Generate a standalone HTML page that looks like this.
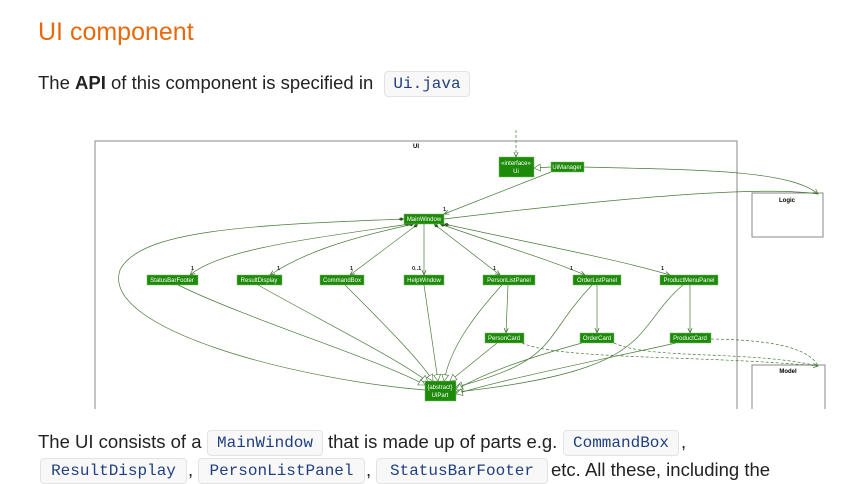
<!DOCTYPE html>
<html><head><meta charset="utf-8"><style>
body{margin:0;width:865px;height:483px;background:#fff;overflow:hidden;position:relative;font-family:"Liberation Sans",sans-serif;color:#222}
.a{position:absolute;white-space:nowrap}
.c{position:absolute;font-family:"Liberation Mono",monospace;font-size:16px;color:#1f3f80;background:#f8f8f8;border:1px solid #e3e3e3;border-radius:4px;height:24px;line-height:24px;text-align:center}
.t{font-size:18.5px}
</style></head><body>
<div class="a" style="left:38px;top:18px;font-size:25px;color:#e8690c">UI component</div>
<div class="a t" style="left:38px;top:72px">The <b>API</b> of this component is specified in</div>
<div class="c" style="left:384px;top:71px;width:84px">Ui.java</div>

<svg class="a" style="left:0;top:0" width="865" height="483" font-family="Liberation Sans,sans-serif">
<defs>
<marker id="ar" markerWidth="8" markerHeight="8" refX="7" refY="4" orient="auto"><path d="M0,1 L7,4 L0,7" fill="none" stroke="#3a6a2a" stroke-width="1"/></marker>
<marker id="di" markerWidth="10" markerHeight="8" refX="1" refY="4" orient="auto"><path d="M1,4 L5,1.5 L9,4 L5,6.5Z" fill="#2a5a1a"/></marker>
<marker id="tr" markerWidth="12" markerHeight="12" refX="10" refY="6" orient="auto"><path d="M1,1 L10,6 L1,11Z" fill="#fff" stroke="#3a6a2a" stroke-width="0.8"/></marker>
</defs>
<rect x="95" y="141" width="642" height="280" fill="none" stroke="#888"/>
<text x="416" y="148" font-size="6" font-weight="bold" text-anchor="middle">UI</text>
<rect x="752" y="193" width="71" height="44" fill="#fff" stroke="#888"/>
<text x="787" y="202" font-size="6" font-weight="bold" text-anchor="middle">Logic</text>
<rect x="752" y="365" width="73" height="60" fill="#fff" stroke="#888"/>
<text x="788" y="373" font-size="6" font-weight="bold" text-anchor="middle">Model</text>
<g fill="none" stroke="#4a7a3a" stroke-width="0.7">
<path d="M516,130 L516,157" stroke-dasharray="3,2" marker-end="url(#ar)"/>
<path d="M551,167 L534,168" marker-end="url(#tr)"/>
<path d="M584,167 C700,170 790,170 818,194" marker-end="url(#ar)"/>
<path d="M551,172 L444,214" marker-end="url(#ar)"/>
<path d="M444,219 C600,200 760,185 818,194"/>
<path d="M404,219 C250,225 140,230 120,270 C100,330 300,380 425,390" marker-start="url(#di)"/>
<path d="M410,224 C300,240 220,250 190,275" marker-start="url(#di)" marker-end="url(#ar)"/>
<path d="M414,224 C340,240 300,255 270,275" marker-start="url(#di)" marker-end="url(#ar)"/>
<path d="M418,224 L350,275" marker-start="url(#di)" marker-end="url(#ar)"/>
<path d="M424,224 L424,275" marker-end="url(#ar)"/>
<path d="M434,224 L500,275" marker-start="url(#di)" marker-end="url(#ar)"/>
<path d="M440,224 C500,245 550,260 585,275" marker-start="url(#di)" marker-end="url(#ar)"/>
<path d="M444,224 C540,245 620,260 670,275" marker-start="url(#di)" marker-end="url(#ar)"/>
<path d="M178,285 C250,320 380,360 425,385" marker-end="url(#tr)"/>
<path d="M258,285 C320,320 400,360 428,382" marker-end="url(#tr)"/>
<path d="M345,285 C380,320 420,360 433,381" marker-end="url(#tr)"/>
<path d="M424,285 L438,381" marker-end="url(#tr)"/>
<path d="M502,285 C470,320 450,350 444,381" marker-end="url(#tr)"/>
<path d="M508,285 L506,333" marker-end="url(#ar)"/>
<path d="M592,285 C540,340 560,360 456,387" marker-end="url(#tr)"/>
<path d="M597,285 L597,333" marker-end="url(#ar)"/>
<path d="M683,285 C630,330 660,370 456,392" marker-end="url(#tr)"/>
<path d="M690,285 L690,333" marker-end="url(#ar)"/>
<path d="M497,343 L450,381" marker-end="url(#tr)"/>
<path d="M582,343 C520,360 480,375 456,390" marker-end="url(#tr)"/>
<path d="M676,343 C600,360 500,380 456,394" marker-end="url(#tr)"/>
<path d="M522,343 C560,360 700,355 818,366" stroke-dasharray="3,2" marker-end="url(#ar)"/>
<path d="M614,343 C650,360 750,350 818,366" stroke-dasharray="3,2"/>
<path d="M711,339 C780,340 810,350 818,366" stroke-dasharray="3,2"/>
</g>
<g fill="#1e8a0a" stroke="#7ab86a" stroke-width="0.5">
<rect x="499" y="157" width="35" height="20"/><rect x="551" y="162" width="33" height="10"/>
<rect x="404" y="214" width="40" height="10"/>
<rect x="147" y="275" width="51" height="10"/><rect x="237" y="275" width="45" height="10"/>
<rect x="320" y="275" width="44" height="10"/><rect x="404" y="275" width="40" height="10"/>
<rect x="483" y="275" width="52" height="10"/><rect x="573" y="275" width="48" height="10"/>
<rect x="660" y="275" width="58" height="10"/>
<rect x="485" y="333" width="39" height="10"/><rect x="580" y="333" width="34" height="10"/>
<rect x="670" y="333" width="41" height="10"/>
<rect x="425" y="381" width="31" height="20"/>
</g>
<g fill="#fff" font-size="6" text-anchor="middle">
<text x="516" y="165">«interface»</text><text x="516" y="173">Ui</text>
<text x="567" y="169">UiManager</text><text x="424" y="221">MainWindow</text>
<text x="172" y="282">StatusBarFooter</text><text x="259" y="282">ResultDisplay</text>
<text x="342" y="282">CommandBox</text><text x="424" y="282">HelpWindow</text>
<text x="509" y="282">PersonListPanel</text><text x="597" y="282">OrderListPanel</text>
<text x="689" y="282">ProductMenuPanel</text>
<text x="504" y="340">PersonCard</text><text x="597" y="340">OrderCard</text><text x="690" y="340">ProductCard</text>
<text x="440" y="389">{abstract}</text><text x="440" y="397">UiPart</text>
</g>
<g font-size="5.5" font-weight="bold" fill="#222">
<text x="443" y="211">1</text><text x="191" y="270">1</text><text x="277" y="270">1</text>
<text x="350" y="270">1</text><text x="412" y="270">0..1</text><text x="493" y="270">1</text>
<text x="570" y="270">1</text><text x="661" y="270">1</text>
</g>
<rect x="0" y="409" width="865" height="74" fill="#fff"/>
</svg>

<div class="a t" style="left:38px;top:431px">The UI consists of a</div>
<div class="c" style="left:207px;top:430px;width:114px">MainWindow</div>
<div class="a t" style="left:328px;top:431px">that is made up of parts e.g.</div>
<div class="c" style="left:563px;top:430px;width:114px">CommandBox</div>
<div class="a t" style="left:681px;top:431px">,</div>
<div class="c" style="left:40px;top:458px;width:145px">ResultDisplay</div>
<div class="a t" style="left:188px;top:459px">,</div>
<div class="c" style="left:198px;top:458px;width:165px">PersonListPanel</div>
<div class="a t" style="left:366px;top:459px">,</div>
<div class="c" style="left:376px;top:458px;width:170px">StatusBarFooter</div>
<div class="a t" style="left:551px;top:459px">etc. All these, including the</div>
</body></html>
